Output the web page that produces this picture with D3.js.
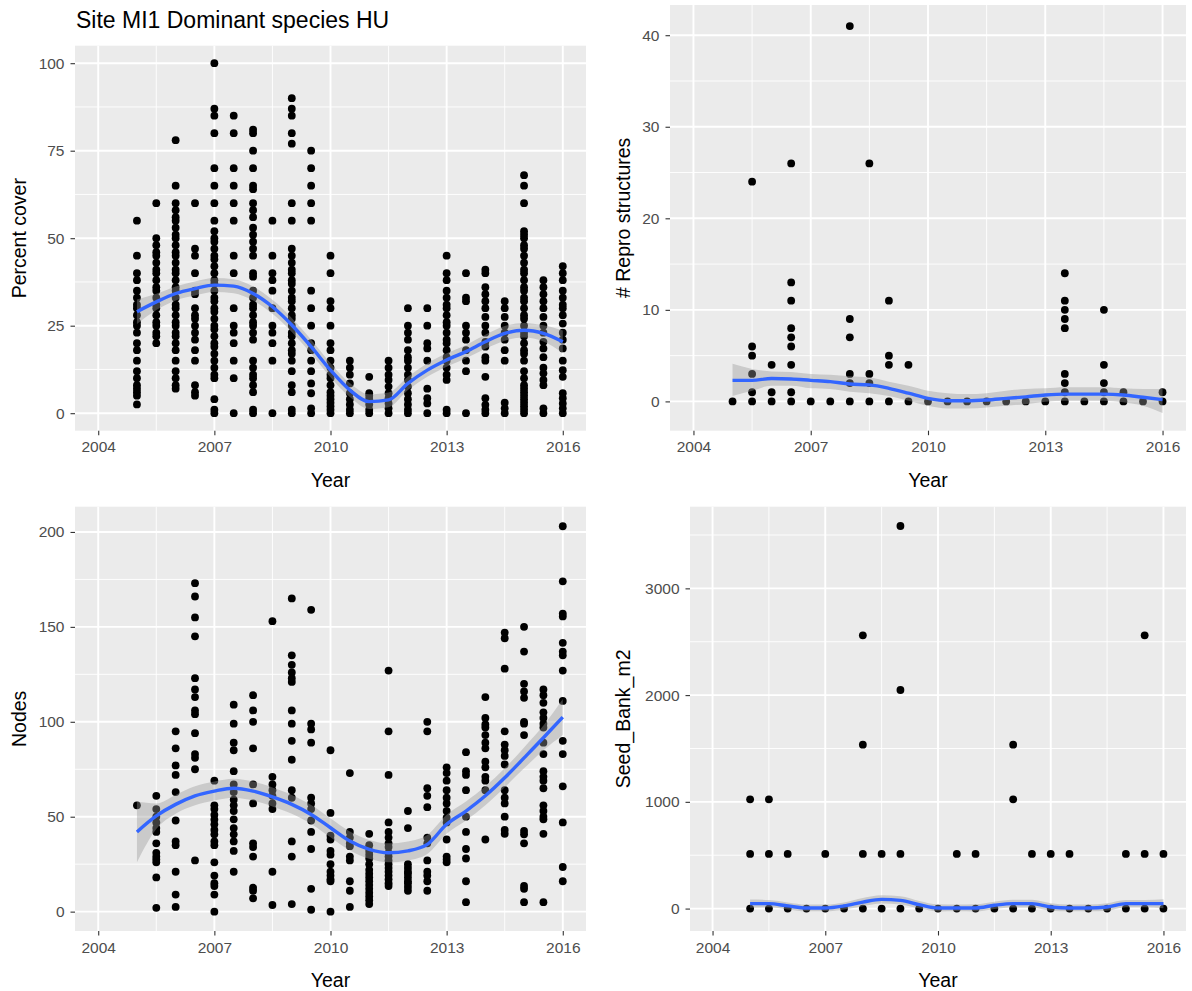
<!DOCTYPE html>
<html>
<head>
<meta charset="utf-8">
<script src="https://cdn.jsdelivr.net/npm/d3@7"></script>
<style>
  body { margin: 0; background: #fff; }
  text { font-family: "Liberation Sans", Arial, sans-serif; }
</style>
</head>
<body>
<div id="chart"></div>
<script>
//============== data ===============//

// sampling dates (two visits a year)
const sampleYears = [2005, 2005.5, 2006, 2006.5, 2007, 2007.5, 2008, 2008.5, 2009, 2009.5, 2010, 2010.5,
                     2011, 2011.5, 2012, 2012.5, 2013, 2013.5, 2014, 2014.5, 2015, 2015.5, 2016]
const xTicks = [2004, 2007, 2010, 2013, 2016]

// Percent cover, one list per sample date
const coverValues = [
  [55, 45, 40, 38, 35, 33, 31, 30, 28, 26, 25, 23, 20, 18, 15, 12, 10, 8, 7, 6, 5, 2.5],
  [60, 50, 48, 46, 45, 43, 41, 40, 38, 36, 35, 33, 31, 30, 28, 26, 25, 23, 22, 20],
  [78, 65, 60, 58, 56, 55, 53, 51, 50, 48, 46, 45, 43, 41, 40, 38, 36, 35, 33, 31, 30, 28, 26, 25, 23, 22, 20, 18, 15, 12, 10, 8, 7],
  [60, 47, 45, 40, 35, 34, 30, 28, 27, 25, 23, 21, 18, 15, 8, 6, 5],
  [100, 87, 85, 80, 70, 65, 60, 55, 52, 50, 49, 47, 45, 44, 42, 40, 38, 37, 35, 33, 32, 30, 29, 27, 25, 24, 22, 20, 19, 17, 15, 13, 11, 10, 4, 1, 0],
  [85, 80, 70, 65, 60, 55, 45, 40, 30, 25, 23, 20, 15, 10, 0],
  [81, 80, 75, 70, 65, 64, 60, 58, 56, 53, 51, 49, 47, 45, 40, 39, 35, 33, 31, 30, 28, 26, 25, 23, 21, 15, 13, 11, 10, 8, 6, 1, 0],
  [55, 45, 40, 38, 35, 30, 25, 23, 20, 15, 0],
  [90, 87, 85, 80, 77, 60, 55, 47, 45, 43, 41, 40, 38, 37, 35, 33, 32, 30, 28, 27, 25, 23, 22, 20, 18, 17, 15, 12, 8, 6, 1, 0],
  [75, 70, 65, 60, 55, 35, 30, 25, 20, 18, 15, 12, 8.5, 5.7, 1.4, 0],
  [45, 40, 32, 30, 25, 20, 18, 15, 13, 11, 10, 8, 6, 5, 4, 3, 2, 1, 0],
  [15, 13, 11, 8.5, 5.7, 4, 2.5, 1, 0],
  [10.4, 5.7, 5, 4, 2.5, 1, 0],
  [15, 13, 11, 9.5, 7.6, 5.7, 4.3, 2.8, 1.4, 0],
  [30, 25, 23, 21, 18, 16, 15, 13, 11, 9.5, 7.6, 5.7, 4, 2.5, 1, 0],
  [30, 25, 20, 18.5, 15, 7, 4.3, 2.8, 0],
  [45, 40, 38, 35, 33, 31, 30, 28, 26, 25, 23, 21, 20, 18, 16, 15, 13, 11, 9.5, 1, 0],
  [40, 33, 32, 25, 23, 21, 18, 15, 12, 0],
  [41, 40, 36, 34, 32, 30, 27.5, 25, 23, 20.4, 19, 16, 15, 10.4, 4.3, 2.4, 1, 0],
  [32, 30, 27.5, 25, 23, 21, 18, 15, 3, 1.4, 0],
  [68, 65, 60, 52, 51, 50, 48, 47, 45, 43, 41, 40, 38, 36, 35, 33, 32, 30, 28, 27, 25, 23, 22, 20, 18, 17, 15, 12, 10, 8, 7, 6, 5, 4, 3, 2, 1, 0],
  [38, 36, 34, 32, 30, 27.5, 25, 23, 20.4, 18.5, 16, 13, 11.4, 9.5, 8, 1.4, 0],
  [42, 40, 38, 35, 33, 31, 30, 28, 25.6, 23, 21, 18.5, 15, 12.3, 10.4, 5.7, 4.3, 2.8, 1.4, 0]
]
const coverFit = [29, 31.8, 34.2, 35.6, 36.6, 36.3, 34.2, 30.4, 25.2, 19, 12.3, 6.6, 3.3, 3.8, 8.5, 12.3, 15.2, 17.6, 20.4, 22.8, 23.7, 22.8, 20.4]
const coverHi  = [32.5, 34.1, 36.2, 37.6, 38.6, 38.3, 36.2, 32.4, 27.2, 21, 14.3, 8.6, 5.4, 5.9, 10.4, 14.2, 17.1, 19.5, 22.4, 24.9, 25.8, 25.1, 23.6]
const coverLo  = [25.5, 29.5, 32.2, 33.6, 34.6, 34.3, 32.2, 28.4, 23.2, 17, 10.3, 4.6, 1.2, 1.7, 6.6, 10.4, 13.3, 15.7, 18.4, 20.7, 21.6, 20.5, 17.2]

// # Repro structures
const reproValues = [
  [0], [24, 6, 5, 3, 1, 0], [4, 1, 0], [26, 13, 11, 8, 7, 6, 4, 1, 0], [0], [0],
  [41, 9, 7, 3, 2, 0], [26, 3, 2, 0], [11, 5, 4, 0], [4, 0], [0], [0],
  [0], [0], [0], [0], [0], [14, 11, 10, 9, 8, 3, 2, 1, 0], [0], [10, 4, 2, 1, 0],
  [1, 0], [0], [1, 0]
]
const reproFit = [2.3, 2.3, 2.5, 2.45, 2.3, 2.16, 1.9, 1.8, 1.43, 0.9, 0.33, 0.07, 0.07, 0.15, 0.33, 0.5, 0.7, 0.8, 0.8, 0.8, 0.7, 0.45, 0.2]
const reproHi  = [4.1, 3.55, 3.26, 3.2, 3.0, 2.9, 2.75, 2.6, 2.16, 1.72, 1.17, 0.9, 0.8, 0.9, 1.17, 1.35, 1.43, 1.54, 1.54, 1.54, 1.43, 1.35, 1.35]
const reproLo  = [0.6, 1.17, 1.72, 1.7, 1.43, 1.35, 1.06, 0.9, 0.6, 0.07, -0.48, -0.77, -0.77, -0.66, -0.48, -0.3, -0.04, 0.07, 0.07, 0.07, -0.1, -0.48, -1.28]

// Nodes
const nodesValues = [
  [56],
  [61, 54, 50, 47, 44, 42, 36, 31, 29, 27.5, 26, 18, 2],
  [95, 86, 77, 72, 63, 48, 37, 35, 21, 9, 2.5],
  [173, 166, 155, 145, 123, 117, 113, 106, 104, 94, 83, 81, 75, 27],
  [69, 56, 54, 51, 48.5, 46, 43, 40.7, 37, 35, 26, 19, 15, 13.5, 9, 0],
  [109, 99, 89, 85, 74, 67, 63, 59, 56, 53, 48.6, 44, 40.7, 37, 32, 21],
  [114, 106, 100, 86, 67, 57, 36, 34, 29, 12.6, 11, 7],
  [153, 71, 67, 64, 61, 57, 54, 21, 3.5],
  [165, 135, 130, 126, 123, 121, 106, 99, 90, 80, 64, 60, 37, 29, 4],
  [159, 99, 96, 89, 60, 57, 54, 48, 42, 33, 12, 1],
  [85, 52, 40, 38, 32, 30, 25, 21, 19, 17, 16, 0],
  [73, 42, 39, 36, 34.5, 29, 27, 16, 11, 2.5],
  [41, 35, 32, 30, 28, 25, 22, 20, 18, 16, 14, 12, 10, 8, 6, 4],
  [127, 95, 72, 47, 42, 39, 36, 34, 31, 29, 27, 25, 23, 21, 19, 17, 15, 13.5],
  [53, 44, 25, 23, 21, 20, 18, 16, 15, 13, 11],
  [100, 95, 65, 61, 55, 39, 36, 27, 21, 19, 16, 11],
  [76, 73, 69, 64, 60, 57, 53, 49.5, 47, 38, 29, 27.5, 26],
  [84, 74, 72, 64, 50, 42, 33, 28, 16, 5],
  [113, 102, 98.6, 97, 93, 89, 86, 79, 76, 71, 69, 64, 38],
  [147, 144, 128, 95, 88, 85, 82, 77.5, 64, 60, 57, 50, 43, 41],
  [150, 137, 120, 116, 112.6, 100, 99, 93, 42.5, 40.7, 36, 13.5, 12, 5],
  [117, 114, 110, 105, 102, 99, 97, 89, 83, 74, 71, 69, 65, 56, 53, 50, 48.6, 41, 5],
  [203, 174, 157, 155.5, 141.6, 137, 135, 127, 111, 90, 83, 66, 47, 23.5, 16]
]
const nodesFit = [42, 50.4, 56.5, 61, 63.5, 65, 63.5, 60.4, 56.5, 51.2, 44.2, 37.2, 32.8, 31, 32, 35.4, 46, 53, 61, 70.5, 81, 91.6, 102.5]
const nodesHi  = [58, 57, 61.5, 66, 68.5, 70, 68.5, 65.4, 61.5, 56.2, 49.2, 42.2, 37.8, 36, 37, 40.4, 51, 58, 66, 75.5, 86.5, 98, 112]
const nodesLo  = [26, 43.5, 51.5, 56, 58.5, 60, 58.5, 55.4, 51.5, 46.2, 39.2, 32.2, 27.8, 26, 27, 30.4, 41, 48, 56, 65.5, 75.5, 85, 93]

// Seed_Bank_m2
const seedValues = [
  [0, 512, 1024], [0, 512, 1024], [0, 512], [0], [0, 512], [0],
  [0, 512, 1536, 2560], [0, 512], [0, 512, 2048, 3584], [0], [0], [0, 512],
  [0, 512], [0], [0, 1024, 1536], [0, 512], [0, 512], [0, 512], [0], [0],
  [0, 512], [0, 512, 2560], [0, 512]
]
const seedFit = [46, 46, 25, 6, 6, 25, 61, 86, 77, 37, 6, 6, 6, 31, 46, 46, 15, 6, 6, 15, 46, 46, 46]
const seedHi  = [85, 80, 58, 38, 38, 58, 100, 125, 115, 72, 40, 38, 40, 65, 82, 82, 50, 38, 38, 50, 80, 80, 88]
const seedLo  = [7, 12, -8, -26, -26, -8, 22, 47, 39, 2, -28, -26, -28, -3, 10, 10, -20, -26, -26, -20, 12, 12, 4]

//============== env ===============//

const svg = d3.select("#chart")
  .append("svg")
    .attr("width", 1192)
    .attr("height", 991)

// title of the whole figure
svg.append("text")
  .attr("x", 76)
  .attr("y", 28)
  .text("Site MI1 Dominant species HU")
  .style("font-size", "23px")
  .style("fill", "#000")

function drawPanel(p) {
  const x = d3.scaleLinear()
    .domain([2003.4, 2016.6])
    .range([p.left, p.right])
  const y = d3.scaleLinear()
    .domain(p.yDomain)
    .range([p.bottom, p.top])

  const g = svg.append("g")

  // panel background
  g.append("rect")
    .attr("x", p.left)
    .attr("y", p.top)
    .attr("width", p.right - p.left)
    .attr("height", p.bottom - p.top)
    .attr("fill", "#EBEBEB")

  // minor grid lines (half way between breaks)
  const xMinor = d3.pairs(xTicks).map(d => (d[0] + d[1]) / 2)
  const yMinor = d3.pairs(p.yTicks).map(d => (d[0] + d[1]) / 2)
    .concat([p.yTicks[0] - (p.yTicks[1] - p.yTicks[0]) / 2,
             p.yTicks[p.yTicks.length - 1] + (p.yTicks[1] - p.yTicks[0]) / 2])
    .filter(v => v > p.yDomain[0] && v < p.yDomain[1])

  g.selectAll("xminor").data(xMinor).join("line")
    .attr("x1", d => x(d)).attr("x2", d => x(d))
    .attr("y1", p.top).attr("y2", p.bottom)
    .attr("stroke", "#fff").attr("stroke-width", 0.9)
  g.selectAll("yminor").data(yMinor).join("line")
    .attr("x1", p.left).attr("x2", p.right)
    .attr("y1", d => y(d)).attr("y2", d => y(d))
    .attr("stroke", "#fff").attr("stroke-width", 0.9)

  // major grid lines
  g.selectAll("xmajor").data(xTicks).join("line")
    .attr("x1", d => x(d)).attr("x2", d => x(d))
    .attr("y1", p.top).attr("y2", p.bottom)
    .attr("stroke", "#fff").attr("stroke-width", 1.9)
  g.selectAll("ymajor").data(p.yTicks).join("line")
    .attr("x1", p.left).attr("x2", p.right)
    .attr("y1", d => y(d)).attr("y2", d => y(d))
    .attr("stroke", "#fff").attr("stroke-width", 1.9)

  // points
  const pts = p.values.flatMap((vals, i) => vals.map(v => ({year: sampleYears[i], value: v})))
  g.selectAll("myPoints").data(pts).join("circle")
    .attr("cx", d => x(d.year))
    .attr("cy", d => y(d.value))
    .attr("r", 3.9)
    .attr("fill", "#000")

  // smoother: ribbon then line
  const fitData = sampleYears.map((yr, i) => ({year: yr, fit: p.fit[i], lo: p.lo[i], hi: p.hi[i]}))
  const area = d3.area()
    .x(d => x(d.year))
    .y0(d => y(d.lo))
    .y1(d => y(d.hi))
    .curve(d3.curveMonotoneX)
  g.append("path")
    .attr("d", area(fitData))
    .attr("fill", "#999999")
    .attr("fill-opacity", 0.4)
  const line = d3.line()
    .x(d => x(d.year))
    .y(d => y(d.fit))
    .curve(d3.curveMonotoneX)
  g.append("path")
    .attr("d", line(fitData))
    .attr("fill", "none")
    .attr("stroke", "#3366FF")
    .attr("stroke-width", 3.4)

  // axes
  const xAxis = g.append("g")
    .attr("transform", `translate(0,${p.bottom})`)
    .call(d3.axisBottom(x).tickValues(xTicks).tickFormat(d3.format("d")).tickSize(4.5).tickPadding(6))
  const yAxis = g.append("g")
    .attr("transform", `translate(${p.left},0)`)
    .call(d3.axisLeft(y).tickValues(p.yTicks).tickFormat(d3.format("d")).tickSize(4.5).tickPadding(6))
  for (const ax of [xAxis, yAxis]) {
    ax.select(".domain").remove()
    ax.selectAll(".tick line").attr("stroke", "#333333").attr("stroke-width", 1.1)
    ax.selectAll(".tick text")
      .style("font-family", '"Liberation Sans", Arial, sans-serif')
      .style("font-size", "15.5px")
      .attr("fill", "#4D4D4D")
  }

  // axis titles
  g.append("text")
    .attr("x", (p.left + p.right) / 2)
    .attr("y", p.bottom + 56)
    .attr("text-anchor", "middle")
    .style("font-size", "19.5px")
    .text("Year")
  g.append("text")
    .attr("transform", `translate(${p.yTitleX},${(p.top + p.bottom) / 2}) rotate(-90)`)
    .attr("text-anchor", "middle")
    .style("font-size", "19.5px")
    .text(p.yTitle)
}

drawPanel({left: 75, right: 586, top: 45.7, bottom: 430.7, yDomain: [-5, 105], yTicks: [0, 25, 50, 75, 100],
           values: coverValues, fit: coverFit, lo: coverLo, hi: coverHi, yTitle: "Percent cover", yTitleX: 26})
drawPanel({left: 670, right: 1186, top: 5, bottom: 430.7, yDomain: [-3.2, 43.3], yTicks: [0, 10, 20, 30, 40],
           values: reproValues, fit: reproFit, lo: reproLo, hi: reproHi, yTitle: "# Repro structures", yTitleX: 630})
drawPanel({left: 75, right: 586, top: 506.7, bottom: 931, yDomain: [-10.2, 213.3], yTicks: [0, 50, 100, 150, 200],
           values: nodesValues, fit: nodesFit, lo: nodesLo, hi: nodesHi, yTitle: "Nodes", yTitleX: 26})
drawPanel({left: 690, right: 1186, top: 506.7, bottom: 931, yDomain: [-210, 3765], yTicks: [0, 1000, 2000, 3000],
           values: seedValues, fit: seedFit, lo: seedLo, hi: seedHi, yTitle: "Seed_Bank_m2", yTitleX: 630})
</script>
</body>
</html>
